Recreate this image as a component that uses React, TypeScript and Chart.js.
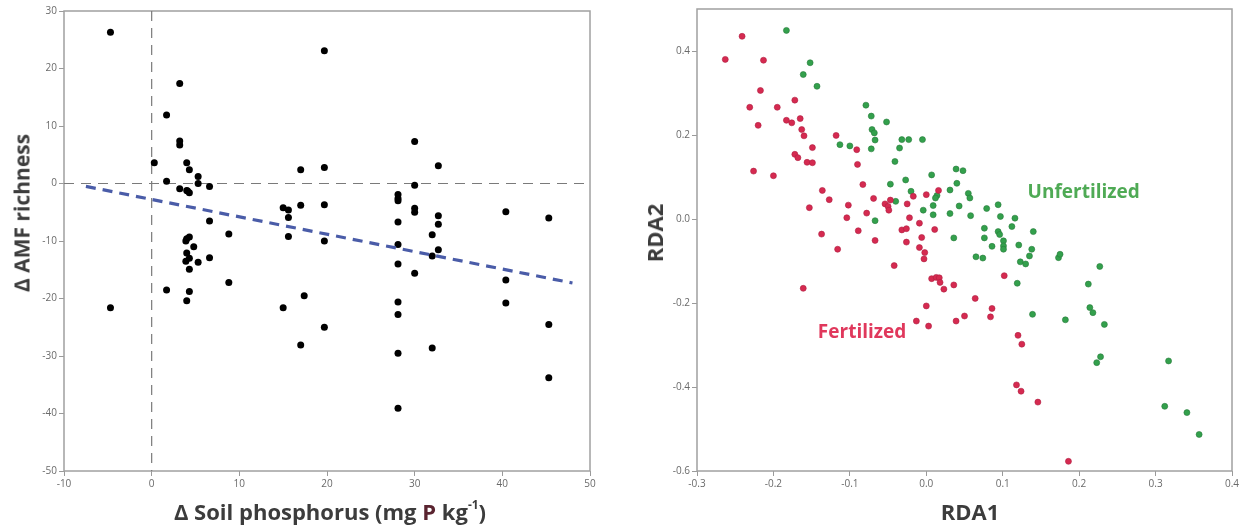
import React, { useEffect, useRef } from 'react';
import { Chart, registerables } from 'chart.js';
Chart.register(...registerables);

// ---------- Left panel data: Δ Soil phosphorus vs Δ AMF richness ----------
const phosphorusX = [
  -4.7, -4.7, 0.3, 1.7, 1.7, 1.7, 3.2, 3.2, 3.2, 3.2, 4.0, 4.3, 5.3, 5.3, 4.0, 4.3, 4.1, 6.6, 6.6, 8.8,
  4.0, 4.3, 3.9, 4.8, 4.0, 4.3, 3.9, 5.3, 6.6, 4.3, 8.8, 4.3, 4.0, 15.0, 15.6, 15.6, 15.6, 15.0, 17.0, 17.0,
  17.4, 17.0, 19.7, 19.7, 19.7, 19.7, 19.7, 28.1, 28.1, 28.1, 28.1, 28.1, 28.1, 28.1, 28.1, 28.1, 28.1, 30.0, 30.0, 30.0,
  30.0, 30.0, 32.7, 32.7, 32.7, 32.0, 32.7, 32.0, 32.0, 40.4, 40.4, 40.4, 45.3, 45.3, 45.3,
];
const richnessY = [
  26.3, -21.6, 3.6, 11.9, 0.4, -18.5, 17.4, 7.4, 6.7, -0.9, 3.6, 2.4, 1.2, 0.0, -1.2, -1.6, -1.3, -0.5, -6.5, -8.8,
  -9.6, -9.3, -10.0, -11.0, -12.1, -13.0, -13.5, -13.7, -12.9, -14.9, -17.2, -18.8, -20.4, -4.2, -4.6, -5.9, -9.2, -21.6, 2.4, -3.8,
  -19.5, -28.1, 23.1, 2.8, -3.7, -10.0, -25.0, -1.9, -2.6, -3.0, -6.7, -10.6, -14.0, -20.6, -22.8, -29.5, -39.1, 7.3, -0.3, -4.3,
  -5.0, -15.6, 3.1, -5.6, -7.1, -8.9, -11.5, -12.6, -28.6, -4.9, -16.8, -20.8, -6.0, -24.5, -33.8,
];
const regressionX = [-7.5, 48];
const regressionY = [-0.5, -17.3];
const leftXTicks = [-10, 0, 10, 20, 30, 40, 50];
const leftYTicks = [-50, -40, -30, -20, -10, 0, 10, 20, 30];

// ---------- Right panel data: RDA ordination ----------
const fertRDA1 = [
  -0.241, -0.263, -0.213, -0.217, -0.231, -0.195, -0.172, -0.220, -0.183, -0.176, -0.165, -0.163, -0.160, -0.149, -0.172, -0.168,
  -0.156, -0.149, -0.226, -0.200, -0.118, -0.091, -0.090, -0.083, -0.136, -0.127, -0.153, -0.102, -0.104, -0.078, -0.069, -0.054,
  -0.050, -0.049, -0.047, -0.025, -0.017, 0.000, 0.016, -0.022, -0.009, 0.011, -0.137, -0.089, -0.067, -0.032, -0.026, -0.026,
  -0.006, -0.116, -0.009, -0.002, -0.003, -0.042, -0.161, 0.000, -0.013, 0.003, 0.007, 0.013, 0.017, 0.018, 0.023, 0.036,
  0.102, 0.064, 0.086, 0.084, 0.050, 0.039, 0.120, 0.125, 0.118, 0.124, 0.146, 0.186,
];
const fertRDA2 = [
  0.435, 0.380, 0.378, 0.306, 0.266, 0.266, 0.283, 0.223, 0.235, 0.229, 0.239, 0.213, 0.198, 0.170, 0.154, 0.146,
  0.135, 0.134, 0.114, 0.103, 0.199, 0.165, 0.130, 0.082, 0.068, 0.046, 0.027, 0.033, 0.003, 0.014, 0.049, 0.036,
  0.030, 0.021, 0.045, 0.036, 0.054, 0.058, 0.068, 0.003, -0.010, -0.025, -0.036, -0.028, -0.051, -0.026, -0.023, -0.055,
  -0.044, -0.072, -0.068, -0.080, -0.095, -0.111, -0.165, -0.207, -0.243, -0.255, -0.142, -0.139, -0.140, -0.151, -0.167, -0.157,
  -0.135, -0.189, -0.213, -0.233, -0.231, -0.243, -0.277, -0.298, -0.395, -0.410, -0.436, -0.577,
];
const unfertRDA1 = [
  -0.183, -0.152, -0.161, -0.143, -0.079, -0.072, -0.071, -0.068, -0.052, -0.067, -0.072, -0.113, -0.100, -0.035, -0.032, -0.023,
  -0.005, -0.041, 0.007, -0.047, -0.027, -0.020, -0.040, -0.067, -0.004, 0.009, 0.009, 0.014, 0.012, 0.039, 0.048, 0.040,
  0.031, 0.055, 0.057, 0.031, 0.043, 0.058, 0.036, 0.079, 0.094, 0.097, 0.116, 0.112, 0.140, 0.076, 0.076, 0.094,
  0.096, 0.101, 0.101, 0.101, 0.086, 0.121, 0.138, 0.135, 0.123, 0.130, 0.065, 0.074, 0.173, 0.175, 0.227, 0.119,
  0.139, 0.182, 0.212, 0.214, 0.218, 0.233, 0.228, 0.223, 0.317, 0.312, 0.341, 0.357,
];
const unfertRDA2 = [
  0.449, 0.372, 0.344, 0.316, 0.271, 0.245, 0.213, 0.205, 0.231, 0.188, 0.167, 0.177, 0.174, 0.169, 0.189, 0.189,
  0.189, 0.137, 0.105, 0.083, 0.093, 0.066, 0.042, -0.004, 0.021, 0.032, 0.010, 0.056, 0.050, 0.119, 0.115, 0.085,
  0.069, 0.061, 0.050, 0.013, 0.031, 0.008, -0.045, 0.025, 0.034, 0.006, 0.002, -0.018, -0.030, -0.022, -0.045, -0.030,
  -0.037, -0.052, -0.064, -0.072, -0.065, -0.062, -0.072, -0.088, -0.102, -0.107, -0.090, -0.093, -0.092, -0.084, -0.113, -0.153,
  -0.227, -0.240, -0.155, -0.211, -0.223, -0.251, -0.328, -0.342, -0.338, -0.446, -0.461, -0.513,
];
const rightXTicks = [-0.3, -0.2, -0.1, 0.0, 0.1, 0.2, 0.3, 0.4];
const rightYTicks = [-0.6, -0.4, -0.2, 0.0, 0.2, 0.4];
const groupLabels = ['Unfertilized', 'Fertilized'];
const groupLabelX = [0.206, -0.084];
const groupLabelY = [0.063, -0.271];

const TICK_FONT = { family: "'Open Sans', sans-serif", size: 10 };
const TICK_COLOR = '#6a6a6a';
const FRAME_COLOR = '#a0a0a0';
const RED = '#d52a50';
const GREEN = '#33a04c';

const framePlugin = {
  id: 'frame',
  beforeDatasetsDraw(chart: any) {
    const { ctx, chartArea: a } = chart;
    ctx.save();
    ctx.strokeStyle = FRAME_COLOR;
    ctx.lineWidth = 1.5;
    ctx.strokeRect(a.left, a.top, a.right - a.left, a.bottom - a.top);
    ctx.restore();
  },
};

const refLinesPlugin = {
  id: 'refLines',
  beforeDatasetsDraw(chart: any) {
    const { ctx, chartArea: a, scales } = chart;
    const px = scales.x.getPixelForValue(0);
    const py = scales.y.getPixelForValue(0);
    ctx.save();
    ctx.strokeStyle = '#7a7a7a';
    ctx.lineWidth = 1.2;
    ctx.setLineDash([10, 7]);
    ctx.beginPath();
    ctx.moveTo(px, a.top);
    ctx.lineTo(px, a.bottom);
    ctx.moveTo(a.left, py);
    ctx.lineTo(a.right, py);
    ctx.stroke();
    ctx.restore();
  },
};

const groupLabelPlugin = {
  id: 'groupLabels',
  afterDatasetsDraw(chart: any) {
    const { ctx, scales } = chart;
    const colors = ['#4faa55', '#e0385c'];
    ctx.save();
    ctx.font = "bold 19px 'Open Sans', sans-serif";
    ctx.textAlign = 'center';
    ctx.textBaseline = 'middle';
    groupLabels.forEach((t, i) => {
      ctx.fillStyle = colors[i];
      ctx.fillText(t, scales.x.getPixelForValue(groupLabelX[i]), scales.y.getPixelForValue(groupLabelY[i]));
    });
    ctx.restore();
  },
};

function axis(ticks: number[], min: number, max: number, size: number, isY: boolean, fmt: (v: number) => string) {
  return {
    type: 'linear',
    min,
    max,
    afterBuildTicks: (s: any) => { s.ticks = ticks.map((v) => ({ value: v })); },
    afterFit: (s: any) => { if (isY) s.width = size; else s.height = size; },
    border: { display: false },
    grid: { drawOnChartArea: false, drawTicks: true, tickLength: 5, color: '#9a9a9a', lineWidth: 1 },
    ticks: {
      font: TICK_FONT,
      color: TICK_COLOR,
      padding: 2,
      maxRotation: 0,
      autoSkip: false,
      callback: (v: any) => fmt(Number(v)),
    },
  };
}

const baseOptions = {
  animation: false,
  responsive: true,
  maintainAspectRatio: false,
  plugins: { legend: { display: false }, tooltip: { enabled: false } },
  events: [],
};

function leftConfig(): any {
  return {
    type: 'scatter',
    data: {
      datasets: [
        {
          type: 'line',
          data: regressionX.map((x, i) => ({ x, y: regressionY[i] })),
          borderColor: '#4a5ca8',
          borderWidth: 3.2,
          borderDash: [10, 7],
          pointRadius: 0,
          fill: false,
        },
        {
          data: phosphorusX.map((x, i) => ({ x, y: richnessY[i] })),
          backgroundColor: '#000',
          borderColor: '#000',
          pointRadius: 3.5,
          borderWidth: 0,
        },
      ],
    },
    options: {
      ...baseOptions,
      layout: { padding: { top: 11, right: 30, left: 0, bottom: 0 } },
      scales: {
        x: axis(leftXTicks, -10, 50, 58, false, (v) => String(v)),
        y: axis(leftYTicks, -50, 30, 64, true, (v) => String(v)),
      },
    },
    plugins: [framePlugin, refLinesPlugin],
  };
}

function rightConfig(): any {
  return {
    type: 'scatter',
    data: {
      datasets: [
        {
          data: fertRDA1.map((x, i) => ({ x, y: fertRDA2[i] })),
          backgroundColor: RED,
          borderColor: '#b01f42',
          borderWidth: 0.6,
          pointRadius: 3,
        },
        {
          data: unfertRDA1.map((x, i) => ({ x, y: unfertRDA2[i] })),
          backgroundColor: GREEN,
          borderColor: '#267a3a',
          borderWidth: 0.6,
          pointRadius: 3,
        },
      ],
    },
    options: {
      ...baseOptions,
      layout: { padding: { top: 9, right: 12, left: 0, bottom: 0 } },
      scales: {
        x: axis(rightXTicks, -0.3, 0.4, 58, false, (v) => v.toFixed(1)),
        y: axis(rightYTicks, -0.6, 0.5, 77, true, (v) => v.toFixed(1)),
      },
    },
    plugins: [framePlugin, groupLabelPlugin],
  };
}

const titleStyle: React.CSSProperties = {
  position: 'absolute',
  fontFamily: "'Open Sans', sans-serif",
  fontWeight: 700,
  fontSize: 22,
  lineHeight: 1,
  color: '#3c3c3c',
  whiteSpace: 'nowrap',
};

export default function App() {
  const leftRef = useRef<HTMLCanvasElement>(null);
  const rightRef = useRef<HTMLCanvasElement>(null);

  useEffect(() => {
    const l = new Chart(leftRef.current as HTMLCanvasElement, leftConfig());
    const r = new Chart(rightRef.current as HTMLCanvasElement, rightConfig());
    return () => {
      l.destroy();
      r.destroy();
    };
  }, []);

  return (
    <div style={{ position: 'fixed', left: 0, top: 0, width: 1244, height: 529, background: '#fff', overflow: 'hidden' }}>
      <div style={{ position: 'absolute', left: 0, top: 0, width: 620, height: 529 }}>
        <canvas ref={leftRef} />
      </div>
      <div style={{ position: 'absolute', left: 620, top: 0, width: 624, height: 529 }}>
        <canvas ref={rightRef} />
      </div>
      <div style={{ ...titleStyle, fontSize: 21, left: 22, top: 213, transform: 'translate(-50%, -50%) rotate(-90deg)' }}>
        Δ AMF richness
      </div>
      <div style={{ ...titleStyle, left: 330, top: 511, transform: 'translate(-50%, -50%)' }}>
        Δ Soil phosphorus (mg <span style={{ color: '#5a2430' }}>P</span> kg
        <sup style={{ fontSize: 12, verticalAlign: 'top', position: 'relative', top: -1 }}>-1</sup>)
      </div>
      <div style={{ ...titleStyle, left: 970, top: 511, transform: 'translate(-50%, -50%)' }}>RDA1</div>
      <div style={{ ...titleStyle, left: 654, top: 233, transform: 'translate(-50%, -50%) rotate(-90deg)' }}>RDA2</div>
    </div>
  );
}
